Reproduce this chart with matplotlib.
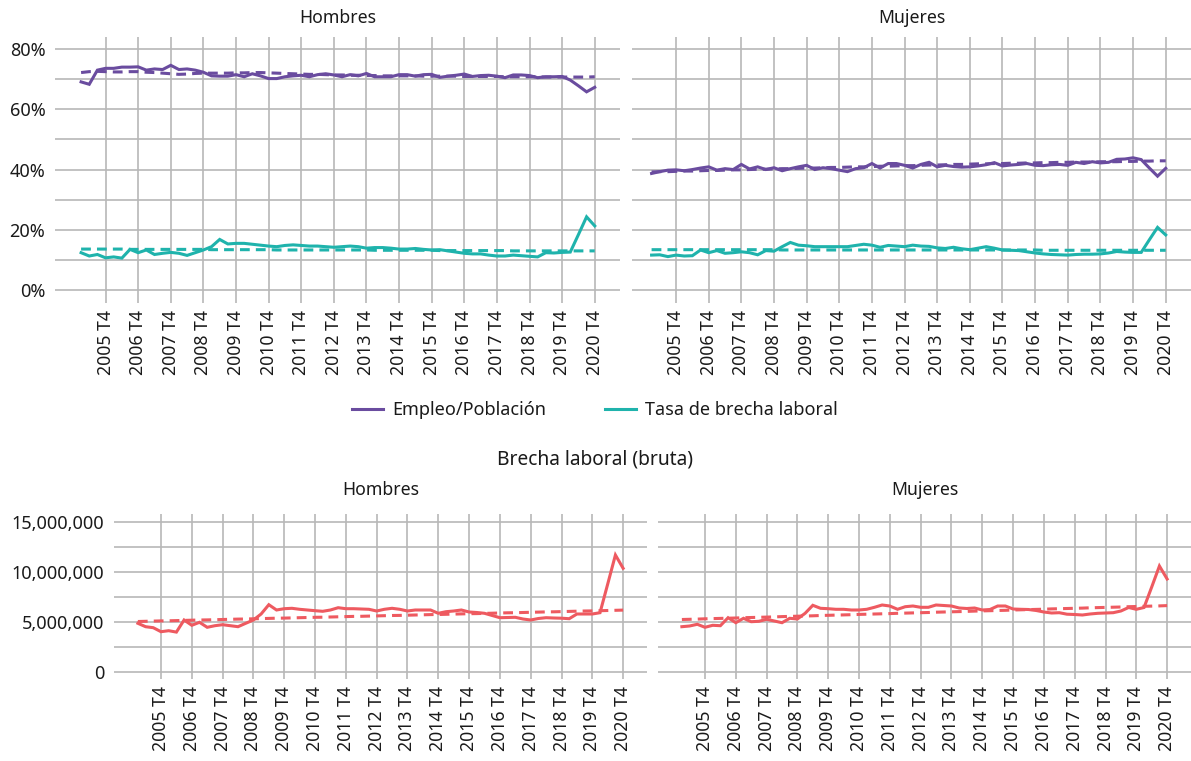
import matplotlib
matplotlib.use("Agg")
import matplotlib.pyplot as plt
from matplotlib.lines import Line2D

plt.rcParams['font.family'] = ['Noto Sans', 'DejaVu Sans']

# ---------------- data ----------------
quarters = [f"{y} T{q}" for y in range(2005, 2021) for q in range(1, 5)]
tick_labels = ["2005 T4", "2006 T4", "2007 T4", "2008 T4", "2009 T4", "2010 T4",
               "2011 T4", "2012 T4", "2013 T4", "2014 T4", "2015 T4", "2016 T4",
               "2017 T4", "2018 T4", "2019 T4", "2020 T4"]

# Empleo/Población (%) - Hombres
emp_h = [69.1, 68.3, 73.0, 73.6, 73.6, 74.0, 74.0, 74.1,
         73.0, 73.4, 73.2, 74.6, 73.2, 73.4, 73.0, 72.3,
         71.1, 71.0, 71.0, 71.5, 70.8, 71.8, 71.1, 70.2,
         70.2, 70.8, 71.1, 71.3, 70.8, 71.5, 71.8, 71.4,
         70.8, 71.5, 71.1, 71.9, 70.8, 70.8, 70.8, 71.5,
         71.5, 71.0, 71.5, 71.6, 70.6, 71.0, 71.3, 71.7,
         70.9, 71.2, 71.3, 71.0, 70.5, 71.4, 71.4, 71.2,
         70.5, 70.8, 70.8, 70.9, 69.7, 67.8, 65.8, 67.3]
emp_h_trend = [72.2, 72.5, 72.6, 72.5, 72.4, 72.4, 72.5, 72.5,
               72.3, 72.2, 72.0, 71.8, 71.6, 71.7, 71.9, 72.0,
               72.0, 72.0, 72.0, 72.1, 72.1, 72.2, 72.2, 72.1,
               72.0, 71.9, 71.8, 71.7, 71.6, 71.6, 71.5, 71.4,
               71.4, 71.3, 71.3, 71.2, 71.2, 71.1, 71.1, 71.1,
               71.1, 71.1, 71.0, 71.0, 71.0, 71.0, 71.0, 70.9,
               70.9, 70.9, 70.9, 70.9, 70.8, 70.8, 70.8, 70.8,
               70.8, 70.7, 70.7, 70.7, 70.7, 70.7, 70.7, 70.8]
# Tasa de brecha laboral (%) - Hombres
tasa_h = [12.4, 11.3, 11.8, 10.7, 11.0, 10.6, 13.5, 12.4,
          13.3, 11.8, 12.2, 12.5, 12.2, 11.5, 12.4, 13.3,
          14.4, 16.8, 15.3, 15.5, 15.5, 15.2, 14.9, 14.6,
          14.4, 14.8, 15.0, 14.8, 14.6, 14.6, 14.4, 14.2,
          14.4, 14.6, 14.4, 13.9, 14.1, 14.1, 13.9, 13.6,
          13.6, 13.8, 13.5, 13.3, 13.4, 13.0, 12.6, 12.2,
          12.0, 12.0, 11.6, 11.3, 11.3, 11.6, 11.4, 11.2,
          11.0, 12.4, 12.3, 12.5, 12.6, 18.4, 24.3, 21.3]
tasa_h_trend = [13.6, 13.6, 13.6, 13.6, 13.6, 13.6, 13.5, 13.5,
                13.5, 13.5, 13.5, 13.5, 13.5, 13.5, 13.5, 13.5,
                13.4, 13.4, 13.4, 13.4, 13.4, 13.4, 13.4, 13.4,
                13.3, 13.3, 13.3, 13.3, 13.3, 13.3, 13.3, 13.3,
                13.3, 13.3, 13.3, 13.3, 13.2, 13.2, 13.2, 13.2,
                13.2, 13.2, 13.2, 13.2, 13.1, 13.1, 13.1, 13.1,
                13.1, 13.1, 13.1, 13.1, 13.1, 13.0, 13.0, 13.0,
                13.0, 13.0, 13.0, 13.0, 13.0, 13.0, 13.0, 13.0]

# Empleo/Población (%) - Mujeres
emp_m = [38.7, 39.3, 39.8, 39.9, 39.6, 40.0, 40.5, 40.9,
         39.8, 40.3, 40.0, 41.7, 40.2, 40.9, 40.0, 40.6,
         39.6, 40.3, 40.9, 41.4, 40.0, 40.6, 40.3, 39.8,
         39.3, 40.3, 40.6, 42.0, 40.5, 42.0, 42.0, 41.4,
         40.5, 41.7, 42.4, 40.9, 41.4, 41.0, 40.8, 40.9,
         41.2, 41.6, 42.3, 41.2, 41.5, 41.7, 42.0, 41.4,
         41.3, 41.6, 41.7, 41.4, 42.4, 42.0, 42.6, 42.2,
         42.4, 43.4, 43.5, 43.9, 43.3, 40.5, 37.8, 40.4]
emp_m_trend = [39.2, 39.3, 39.3, 39.4, 39.5, 39.5, 39.6, 39.7,
               39.7, 39.8, 39.9, 39.9, 40.0, 40.1, 40.1, 40.2,
               40.3, 40.3, 40.4, 40.5, 40.5, 40.6, 40.7, 40.7,
               40.8, 40.9, 40.9, 41.0, 41.1, 41.1, 41.2, 41.3,
               41.3, 41.4, 41.5, 41.5, 41.6, 41.7, 41.7, 41.8,
               41.9, 41.9, 42.0, 42.0, 42.1, 42.1, 42.2, 42.2,
               42.3, 42.3, 42.4, 42.4, 42.5, 42.5, 42.5, 42.6,
               42.6, 42.6, 42.7, 42.7, 42.8, 42.8, 42.9, 42.9]
# Tasa de brecha laboral (%) - Mujeres
tasa_m = [11.6, 11.7, 11.1, 11.6, 11.3, 11.4, 13.3, 12.4,
          13.1, 12.2, 12.4, 12.7, 12.4, 11.7, 13.1, 12.9,
          14.4, 15.8, 14.9, 14.7, 14.4, 14.4, 14.4, 14.4,
          14.4, 14.8, 15.2, 14.9, 14.2, 14.8, 14.6, 14.4,
          14.9, 14.6, 14.5, 14.0, 13.8, 14.2, 13.7, 13.4,
          13.9, 14.4, 13.9, 13.3, 13.2, 13.1, 12.7, 12.3,
          12.0, 11.8, 11.7, 11.6, 11.8, 11.9, 11.9, 12.0,
          12.3, 12.8, 12.6, 12.5, 12.5, 16.7, 20.8, 18.3]
tasa_m_trend = [13.4, 13.4, 13.4, 13.4, 13.4, 13.4, 13.4, 13.4,
                13.4, 13.4, 13.4, 13.4, 13.4, 13.4, 13.4, 13.4,
                13.3, 13.3, 13.3, 13.3, 13.3, 13.3, 13.3, 13.3,
                13.3, 13.3, 13.3, 13.3, 13.3, 13.3, 13.3, 13.3,
                13.3, 13.3, 13.3, 13.3, 13.3, 13.3, 13.3, 13.3,
                13.3, 13.3, 13.3, 13.3, 13.3, 13.3, 13.3, 13.3,
                13.2, 13.2, 13.2, 13.2, 13.2, 13.2, 13.2, 13.2,
                13.2, 13.2, 13.2, 13.2, 13.2, 13.2, 13.2, 13.2]

# Brecha laboral bruta (millones de personas)
brecha_h = [4.87, 4.53, 4.43, 4.03, 4.13, 3.99, 5.20, 4.67,
            4.97, 4.47, 4.63, 4.73, 4.63, 4.53, 4.87, 5.20,
            5.80, 6.73, 6.20, 6.33, 6.37, 6.27, 6.20, 6.13,
            6.07, 6.20, 6.43, 6.33, 6.33, 6.30, 6.27, 6.10,
            6.27, 6.37, 6.27, 6.10, 6.20, 6.20, 6.20, 5.87,
            6.03, 6.10, 6.20, 6.00, 5.95, 5.87, 5.65, 5.43,
            5.45, 5.47, 5.30, 5.20, 5.35, 5.43, 5.40, 5.38,
            5.33, 5.80, 5.80, 5.80, 5.93, 8.80, 11.70, 10.37]
brecha_h_trend = [5.05, 5.07, 5.09, 5.11, 5.12, 5.14, 5.16, 5.18,
                  5.20, 5.21, 5.23, 5.25, 5.27, 5.29, 5.30, 5.32,
                  5.34, 5.36, 5.38, 5.39, 5.41, 5.43, 5.45, 5.47,
                  5.48, 5.50, 5.52, 5.54, 5.56, 5.57, 5.59, 5.61,
                  5.63, 5.65, 5.66, 5.68, 5.70, 5.72, 5.74, 5.75,
                  5.77, 5.79, 5.81, 5.83, 5.84, 5.86, 5.88, 5.90,
                  5.92, 5.93, 5.95, 5.97, 5.99, 6.01, 6.02, 6.04,
                  6.06, 6.08, 6.10, 6.11, 6.13, 6.15, 6.17, 6.19]
brecha_m = [4.53, 4.60, 4.77, 4.47, 4.67, 4.63, 5.43, 4.93,
            5.37, 5.03, 5.07, 5.27, 5.10, 4.93, 5.37, 5.30,
            5.87, 6.67, 6.37, 6.33, 6.27, 6.27, 6.20, 6.20,
            6.27, 6.47, 6.70, 6.60, 6.27, 6.53, 6.60, 6.47,
            6.47, 6.70, 6.65, 6.60, 6.40, 6.35, 6.40, 6.20,
            6.25, 6.60, 6.60, 6.30, 6.27, 6.25, 6.15, 6.00,
            5.90, 5.93, 5.78, 5.75, 5.70, 5.80, 5.87, 5.90,
            5.93, 6.10, 6.45, 6.27, 6.45, 8.50, 10.60, 9.30]
brecha_m_trend = [5.25, 5.27, 5.29, 5.32, 5.34, 5.36, 5.38, 5.40,
                  5.43, 5.45, 5.47, 5.49, 5.51, 5.54, 5.56, 5.58,
                  5.60, 5.62, 5.65, 5.67, 5.69, 5.71, 5.73, 5.76,
                  5.78, 5.80, 5.82, 5.84, 5.87, 5.89, 5.91, 5.93,
                  5.95, 5.98, 6.00, 6.02, 6.04, 6.06, 6.09, 6.11,
                  6.13, 6.15, 6.17, 6.20, 6.22, 6.24, 6.26, 6.28,
                  6.31, 6.33, 6.35, 6.37, 6.39, 6.42, 6.44, 6.46,
                  6.48, 6.50, 6.53, 6.55, 6.57, 6.59, 6.61, 6.64]

# ---------------- style ----------------
PURPLE = "#6a4c9f"
TEAL = "#1fb3ac"
RED = "#ee5a60"
GRID = "#b8b8b8"
TXT = "#1a1a1a"
LW = 2.2
DASH = (0, (3.2, 2.0))

W, H = 1191, 761
fig = plt.figure(figsize=(W / 100, H / 100), dpi=100)


def px_axes(x0, y0, x1, y1):
    return fig.add_axes([x0 / W, 1 - y1 / H, (x1 - x0) / W, (y1 - y0) / H])


x = list(range(len(quarters)))
tick_pos = [quarters.index(t) for t in tick_labels]


def style(ax, yticks, ylabels, ylim, xlim):
    ax.set_xlim(*xlim)
    ax.set_ylim(*ylim)
    for s in ax.spines.values():
        s.set_visible(False)
    ax.set_xticks(tick_pos)
    ax.set_xticklabels(tick_labels, rotation=90, fontsize=12.7, color=TXT)
    ax.set_yticks(yticks)
    ax.set_yticklabels(ylabels, fontsize=13, color=TXT)
    ax.tick_params(length=0, pad=7)
    ax.tick_params(axis='x', pad=5)
    ax.grid(True, color=GRID, linewidth=1.2)
    ax.set_axisbelow(True)


pct_ticks = [0, 10, 20, 30, 40, 50, 60, 70, 80]
pct_labels = [f"{v}%" if v % 20 == 0 else "" for v in pct_ticks]

mil_ticks = [0, 2.5, 5, 7.5, 10, 12.5, 15]
mil_labels = [f"{int(v * 1e6):,}" if v % 5 == 0 else "" for v in mil_ticks]

# top panels
ax1 = px_axes(55, 37, 620, 303)
ax2 = px_axes(632, 37, 1191, 303)
for ax, emp, emp_t, tasa, tasa_t, xl in [
        (ax1, emp_h, emp_h_trend, tasa_h, tasa_h_trend, (-3.2, 66.1)),
        (ax2, emp_m, emp_m_trend, tasa_m, tasa_m_trend, (-2.4, 66.1))]:
    ax.plot(x, emp, color=PURPLE, lw=LW, solid_joinstyle='miter')
    ax.plot(x, emp_t, color=PURPLE, lw=LW, linestyle=DASH)
    ax.plot(x, tasa, color=TEAL, lw=LW, solid_joinstyle='miter')
    ax.plot(x, tasa_t, color=TEAL, lw=LW, linestyle=DASH)
    style(ax, pct_ticks, pct_labels, (-4.3, 84), xl)
ax2.set_yticklabels([])

# bottom panels
ax3 = px_axes(114, 514, 647, 679)
ax4 = px_axes(658, 514, 1191, 679)
for ax, br, br_t in [(ax3, brecha_h, brecha_h_trend), (ax4, brecha_m, brecha_m_trend)]:
    ax.plot(x, br, color=RED, lw=LW, solid_joinstyle='miter')
    ax.plot(x, br_t, color=RED, lw=LW, linestyle=DASH)
    style(ax, mil_ticks, mil_labels, (-0.7, 15.8), (-3.1, 66.1))
ax4.set_yticklabels([])

# titles
fig.text((55 + 620) / 2 / W, 1 - 18 / H, "Hombres", ha='center', va='center', fontsize=12.7, color=TXT)
fig.text((632 + 1191) / 2 / W, 1 - 18 / H, "Mujeres", ha='center', va='center', fontsize=12.7, color=TXT)
fig.text(595 / W, 1 - 460 / H, "Brecha laboral (bruta)", ha='center', va='center', fontsize=13.8, color=TXT)
fig.text((114 + 647) / 2 / W, 1 - 490 / H, "Hombres", ha='center', va='center', fontsize=12.7, color=TXT)
fig.text((658 + 1191) / 2 / W, 1 - 490 / H, "Mujeres", ha='center', va='center', fontsize=12.7, color=TXT)

# legend
handles = [Line2D([], [], color=PURPLE, lw=LW), Line2D([], [], color=TEAL, lw=LW)]
fig.legend(handles, ["Empleo/Población", "Tasa de brecha laboral"], loc='center',
           bbox_to_anchor=(595 / W, 1 - 410 / H), ncol=2, frameon=False, fontsize=13,
           handlelength=1.7, handletextpad=0.5, columnspacing=3.3, labelcolor=TXT)

fig.savefig("out.png", dpi=100)
